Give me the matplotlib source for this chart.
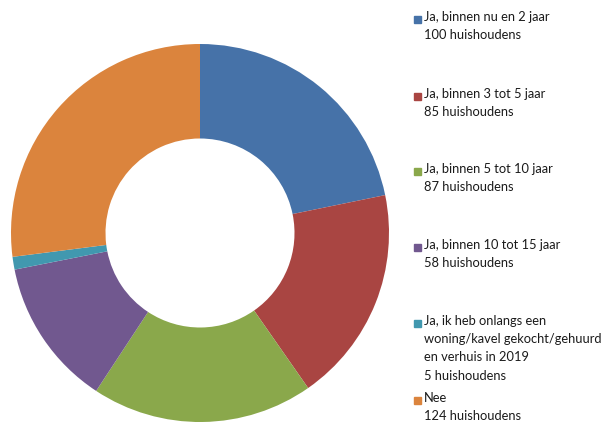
import matplotlib
matplotlib.use("Agg")
from matplotlib import pyplot as plt

labels = [
    "Ja, binnen nu en 2 jaar",
    "Ja, binnen 3 tot 5 jaar",
    "Ja, binnen 5 tot 10 jaar",
    "Ja, binnen 10 tot 15 jaar",
    "Ja, ik heb onlangs een\nwoning/kavel gekocht/gehuurd\nen verhuis in 2019",
    "Nee",
]
counts = [100, 85, 87, 58, 5, 124]
colors = ["#4672A8", "#A94542", "#8AA84B", "#71588F", "#4198AF", "#DB843D"]

W, H = 603, 423
fig = plt.figure(figsize=(W / 100, H / 100), dpi=100)

# donut: center (200, 233) px, radius 189 px
cx, cy, r = 200, 233, 189
ax = fig.add_axes([(cx - r) / W, (H - cy - r) / H, 2 * r / W, 2 * r / H])
ax.pie(counts, colors=colors, startangle=90, counterclock=False,
       radius=1.0, wedgeprops=dict(width=0.5, linewidth=0))
ax.set_xlim(-1, 1)
ax.set_ylim(-1, 1)
ax.set_aspect("equal")
ax.axis("off")

# legend drawn by hand
y_tops = [19, 96, 171, 247, 323, 400]
for lab, n, c, y in zip(labels, counts, colors, y_tops):
    fig.patches.append(plt.Rectangle((414 / W, 1 - (y + 4) / H), 7 / W, 7 / H,
                                     transform=fig.transFigure, color=c))
    fig.text(424 / W, 1 - (y - 8) / H, lab + "\n%d huishoudens" % n,
             fontsize=9.3, family="Lato", color="#1a1a1a",
             va="top", ha="left", linespacing=1.62)

fig.savefig("out.png", dpi=100)
